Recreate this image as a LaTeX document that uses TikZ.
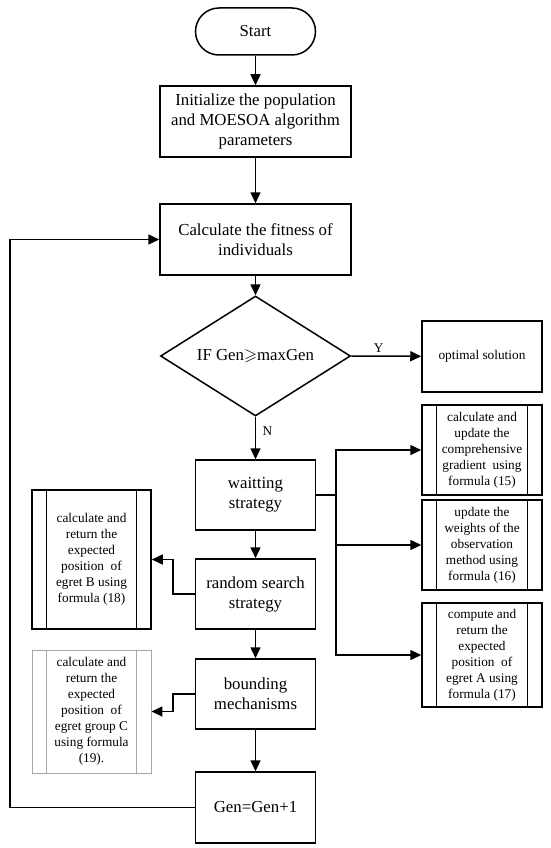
\documentclass[tikz,border=0pt]{standalone}
\usepackage{amssymb}
\usepackage{fontspec}
\setmainfont{Liberation Serif}
\usetikzlibrary{shapes.geometric,arrows.meta}
\begin{document}
\begin{tikzpicture}
      [x=1pt,y=-1pt,
      box/.style={draw,line width=1.5pt,inner sep=0pt,align=center,
        font=\fontsize{16.8}{20}\selectfont},
      side/.style={draw,line width=1.5pt,inner sep=0pt,align=center,
        minimum width=120pt,font=\fontsize{13.3}{16}\selectfont,
        path picture={\draw[line width=1.5pt]
          ([xshift=14.5pt]path picture bounding box.north west) --
          ([xshift=14.5pt]path picture bounding box.south west)
          ([xshift=-14.5pt]path picture bounding box.north east) --
          ([xshift=-14.5pt]path picture bounding box.south east);}},
      arr/.style={line width=1.5pt,-{Triangle[length=11pt,width=10pt]}},
      lab/.style={font=\fontsize{13.3}{16}\selectfont}]
      \useasboundingbox (0,0) rectangle (550,848);
      \node[box,minimum width=120pt,minimum height=47pt,rounded corners=23.5pt]
        (start) at (255.5,31.5) {Start};
      \node[box,minimum width=191pt,minimum height=71pt]
        (init) at (255.5,121.5) {Initialize the population\\and MOESOA algorithm\\parameters};
      \node[box,minimum width=191pt,minimum height=71pt]
        (calc) at (255.5,239.5) {Calculate the fitness of\\individuals};
      \node[box,diamond,aspect=1.5,minimum width=190pt,minimum height=120pt]
        (dec) at (255.5,356) {IF Gen$\geqslant$maxGen};
      \node[box,minimum width=120pt,minimum height=71pt,font=\fontsize{13.3}{16}\selectfont]
        (opt) at (482,356.5) {optimal solution};
      \node[box,minimum width=120pt,minimum height=70pt]
        (wait) at (255.5,495) {waitting\\strategy};
      \node[box,minimum width=120pt,minimum height=70pt]
        (rand) at (255.5,594) {random search\\strategy};
      \node[box,minimum width=120pt,minimum height=70pt]
        (bound) at (255.5,694) {bounding\\mechanisms};
      \node[box,minimum width=120pt,minimum height=71pt]
        (gen) at (255.5,807.5) {Gen=Gen+1};
      \node[side,minimum height=90pt]
        (f15) at (482,450) {calculate and\\update the\\comprehensive\\gradient\ \ using\\formula (15)};
      \node[side,minimum height=90pt]
        (f16) at (482,545) {update the\\weights of the\\observation\\method using\\formula (16)};
      \node[side,minimum height=104pt]
        (f17) at (482,655) {compute and\\return the\\expected\\position\ \ of\\egret A using\\formula (17)};
      \node[side,minimum width=119pt,minimum height=139pt]
        (fB) at (91.5,559.5) {calculate and\\return the\\expected\\position\ \ of\\egret B using\\formula (18)};
      \node[side,minimum width=119pt,minimum height=123pt,draw=gray!70,line width=0.9pt,
        path picture={\draw[gray!70,line width=0.9pt]
          ([xshift=14.5pt]path picture bounding box.north west) --
          ([xshift=14.5pt]path picture bounding box.south west)
          ([xshift=-14.5pt]path picture bounding box.north east) --
          ([xshift=-14.5pt]path picture bounding box.south east);}]
        (fC) at (91.5,711.5) {calculate and\\return the\\expected\\position\ \ of\\egret group C\\using formula\\(19).};
      \coordinate (br) at (336,495);
      \draw[arr] (start) -- (init);
      \draw[arr] (init) -- (calc);
      \draw[arr] (calc) -- (dec);
      \draw[arr] (dec.east) -- node[lab,above,pos=0.39] {Y} (opt);
      \draw[arr] (dec.south) -- node[lab,right,pos=0.34,xshift=3pt] {N} (wait);
      \draw[arr] (wait) -- (rand);
      \draw[arr] (rand) -- (bound);
      \draw[arr] (bound) -- (gen);
      \draw[line width=1.5pt] (wait.east) -- (br);
      \draw[arr] (br) |- (f15.west);
      \draw[arr] (br) |- (f16.west);
      \draw[arr] (br) |- (f17.west);
      \draw[arr] (rand.west) -- ++(-22,0) |- (fB.east);
      \draw[arr] (bound.west) -- ++(-22,0) |- (fC.east);
      \draw[arr] (gen.west) -- ++(-185,0) |- (calc.west);
    \end{tikzpicture}
\end{document}
